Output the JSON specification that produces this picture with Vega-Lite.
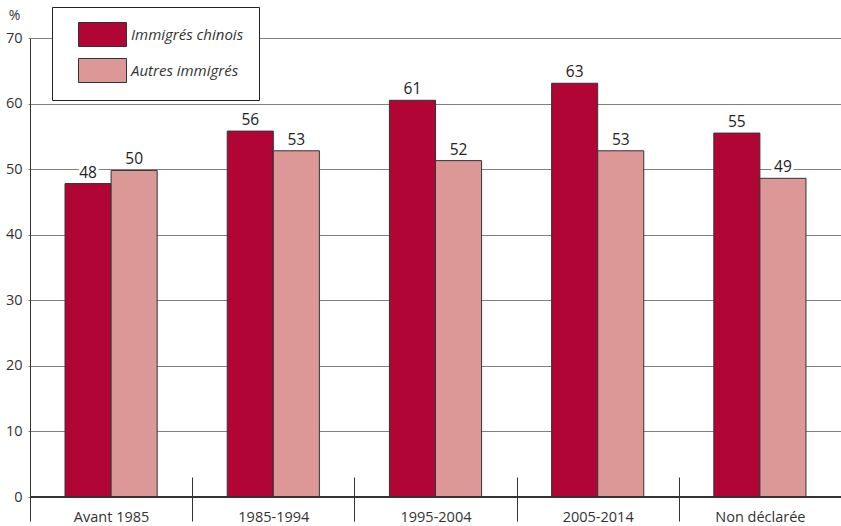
{
  "$schema": "https://vega.github.io/schema/vega-lite/v6.json",
  "width": 811,
  "height": 459,
  "autosize": {"type": "none"},
  "padding": {"left": 30, "top": 38, "right": 0, "bottom": 29},
  "background": "white",
  "config": {"view": {"stroke": null}, "font": "Open Sans"},
  "data": {
    "values": [
      {"periode": "Avant 1985", "groupe": "Immigrés chinois", "valeur": 47.8, "label": "48"},
      {"periode": "Avant 1985", "groupe": "Autres immigrés", "valeur": 49.8, "label": "50"},
      {"periode": "1985-1994", "groupe": "Immigrés chinois", "valeur": 55.8, "label": "56"},
      {"periode": "1985-1994", "groupe": "Autres immigrés", "valeur": 52.8, "label": "53"},
      {"periode": "1995-2004", "groupe": "Immigrés chinois", "valeur": 60.5, "label": "61"},
      {"periode": "1995-2004", "groupe": "Autres immigrés", "valeur": 51.3, "label": "52"},
      {"periode": "2005-2014", "groupe": "Immigrés chinois", "valeur": 63.1, "label": "63"},
      {"periode": "2005-2014", "groupe": "Autres immigrés", "valeur": 52.8, "label": "53"},
      {"periode": "Non déclarée", "groupe": "Immigrés chinois", "valeur": 55.5, "label": "55"},
      {"periode": "Non déclarée", "groupe": "Autres immigrés", "valeur": 48.6, "label": "49"}
    ]
  },
  "layer": [
    {
      "mark": {"type": "bar", "stroke": "#333333", "strokeWidth": 1},
      "encoding": {
        "x": {
          "field": "periode", "type": "nominal",
          "sort": ["Avant 1985", "1985-1994", "1995-2004", "2005-2014", "Non déclarée"],
          "scale": {"paddingInner": 0, "paddingOuter": 0},
          "axis": {
            "title": null, "domain": false, "tickBand": "extent", "tickSize": 44,
            "offset": -20, "labelPadding": -11, "tickColor": "#333333", "tickWidth": 1,
            "labelFontSize": 14.5, "labelColor": "#333333", "labelAngle": 0
          }
        },
        "xOffset": {
          "field": "groupe", "type": "nominal",
          "sort": ["Immigrés chinois", "Autres immigrés"],
          "scale": {"paddingInner": 0, "paddingOuter": 0.76}
        },
        "y": {
          "field": "valeur", "type": "quantitative",
          "scale": {"domain": [0, 70], "nice": false},
          "axis": {
            "title": "%", "titleAngle": 0, "titleX": -16, "titleY": -23,
            "titleAlign": "center", "titleBaseline": "middle", "titleFontSize": 14,
            "titleFontWeight": "normal", "titleColor": "#333333",
            "values": [0, 10, 20, 30, 40, 50, 60, 70],
            "grid": true, "gridColor": "#808080", "gridWidth": 1,
            "tickSize": 2, "tickColor": "#808080", "domainColor": "#333333",
            "labelFontSize": 14.5, "labelPadding": 6, "labelColor": "#333333"
          }
        },
        "color": {
          "field": "groupe", "type": "nominal",
          "sort": ["Immigrés chinois", "Autres immigrés"],
          "scale": {"range": ["#B00535", "#DC9896"]},
          "legend": {
            "title": null, "orient": "none", "legendX": 22, "legendY": -31,
            "strokeColor": "#222222", "fillColor": "white", "padding": 15,
            "symbolType": "M-2,-1H2V1H-2Z", "symbolSize": 576,
            "symbolStrokeColor": "#333333", "symbolStrokeWidth": 1, "symbolOpacity": 1,
            "symbolOffset": 23, "labelOffset": 16, "rowPadding": 7,
            "labelFontSize": 15, "labelFontStyle": "italic", "labelColor": "#333333",
            "labelLimit": 300
          }
        }
      }
    },
    {
      "mark": {"type": "text", "baseline": "bottom", "dy": -3, "fontSize": 15.5, "stroke": "white", "strokeWidth": 6, "strokeJoin": "round", "fill": "white"},
      "encoding": {
        "x": {"field": "periode", "type": "nominal", "sort": ["Avant 1985", "1985-1994", "1995-2004", "2005-2014", "Non déclarée"]},
        "xOffset": {"field": "groupe", "type": "nominal", "sort": ["Immigrés chinois", "Autres immigrés"]},
        "y": {"field": "valeur", "type": "quantitative"},
        "text": {"field": "label"}
      }
    },
    {
      "mark": {"type": "text", "baseline": "bottom", "dy": -3, "fontSize": 15.5, "fill": "#222222"},
      "encoding": {
        "x": {"field": "periode", "type": "nominal", "sort": ["Avant 1985", "1985-1994", "1995-2004", "2005-2014", "Non déclarée"]},
        "xOffset": {"field": "groupe", "type": "nominal", "sort": ["Immigrés chinois", "Autres immigrés"]},
        "y": {"field": "valeur", "type": "quantitative"},
        "text": {"field": "label"}
      }
    },
    {
      "mark": {"type": "rule", "color": "#333333", "strokeWidth": 1},
      "encoding": {"y": {"datum": 0}}
    }
  ]
}
